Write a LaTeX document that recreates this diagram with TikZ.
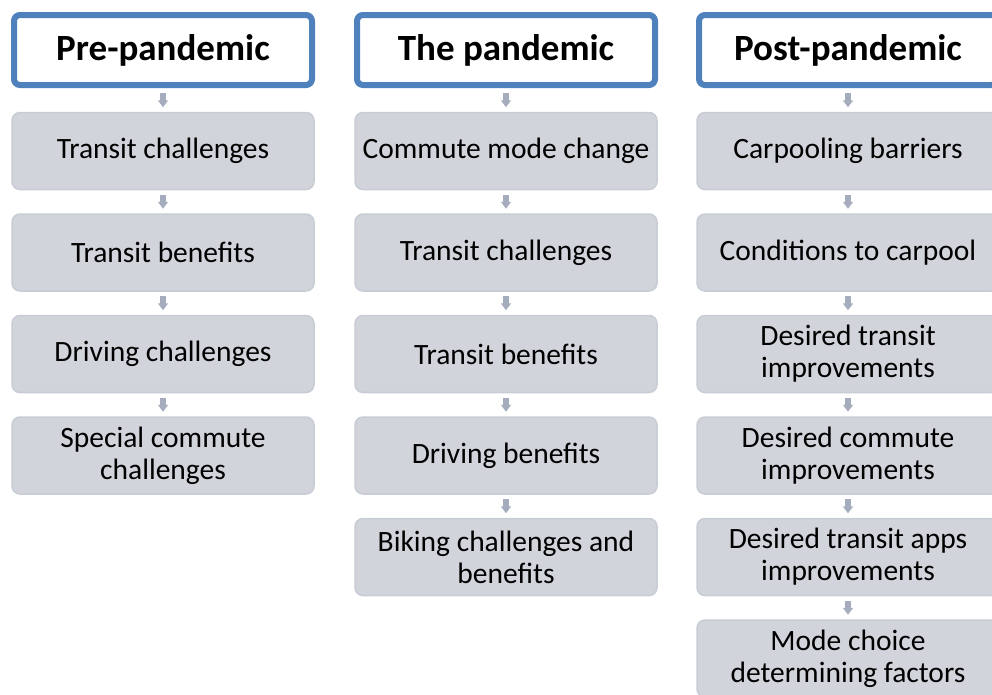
\documentclass[tikz,border=0pt]{standalone}
\usepackage{fontspec}
\setmainfont{Carlito}
\usetikzlibrary{arrows.meta}

\definecolor{hdrblue}{HTML}{4F81BD}
\definecolor{boxgray}{HTML}{D1D4DB}
\definecolor{boxline}{HTML}{C8CCD4}
\definecolor{arrgray}{HTML}{A5ACBE}

\tikzset{
  header/.style={draw=hdrblue, line width=6pt, fill=white, rounded corners=6pt,
    minimum width=298pt, minimum height=70pt,
    font=\fontsize{37}{44}\selectfont\bfseries},
  item/.style={draw=boxline, line width=1.5pt, fill=boxgray, rounded corners=8pt,
    minimum width=302pt, minimum height=77pt, align=center, inner sep=0pt,
    font=\fontsize{29.5}{32}\selectfont},
  down/.style={arrgray, line width=6pt, -{Triangle[width=10pt,length=7pt]},
    shorten <=4.5pt, shorten >=4.5pt}
}

\begin{document}
\begin{tikzpicture}[x=1pt,y=-1pt]
    \clip (0,0) rectangle (992,694);

    % 三列标题
    \node[header] (pre)  at (163,50) {Pre-pandemic};
    \node[header] (pan)  at (506,50) {The pandemic};
    \node[header] (post) at (848,50) {Post-pandemic};

    % 第一列
    \node[item] (pre1) at (163,151)   {Transit challenges};
    \node[item] (pre2) at (163,252.5) {Transit benefits};
    \node[item] (pre3) at (163,354)   {Driving challenges};
    \node[item] (pre4) at (163,455.5) {Special commute\\challenges};

    % 第二列
    \node[item] (pan1) at (506,151)   {Commute mode change};
    \node[item] (pan2) at (506,252.5) {Transit challenges};
    \node[item] (pan3) at (506,354)   {Transit benefits};
    \node[item] (pan4) at (506,455.5) {Driving benefits};
    \node[item] (pan5) at (506,557)   {Biking challenges and\\benefits};

    % 第三列
    \node[item] (post1) at (848,151)   {Carpooling barriers};
    \node[item] (post2) at (848,252.5) {Conditions to carpool};
    \node[item] (post3) at (848,354)   {Desired transit\\improvements};
    \node[item] (post4) at (848,455.5) {Desired commute\\improvements};
    \node[item] (post5) at (848,557)   {Desired transit apps\\improvements};
    \node[item] (post6) at (848,658.5) {Mode choice\\determining factors};

    % 向下的小箭头
    \draw[down] (pre)  -- (pre1);
    \draw[down] (pre1) -- (pre2);
    \draw[down] (pre2) -- (pre3);
    \draw[down] (pre3) -- (pre4);

    \draw[down] (pan)  -- (pan1);
    \draw[down] (pan1) -- (pan2);
    \draw[down] (pan2) -- (pan3);
    \draw[down] (pan3) -- (pan4);
    \draw[down] (pan4) -- (pan5);

    \draw[down] (post)  -- (post1);
    \draw[down] (post1) -- (post2);
    \draw[down] (post2) -- (post3);
    \draw[down] (post3) -- (post4);
    \draw[down] (post4) -- (post5);
    \draw[down] (post5) -- (post6);
\end{tikzpicture}
\end{document}
